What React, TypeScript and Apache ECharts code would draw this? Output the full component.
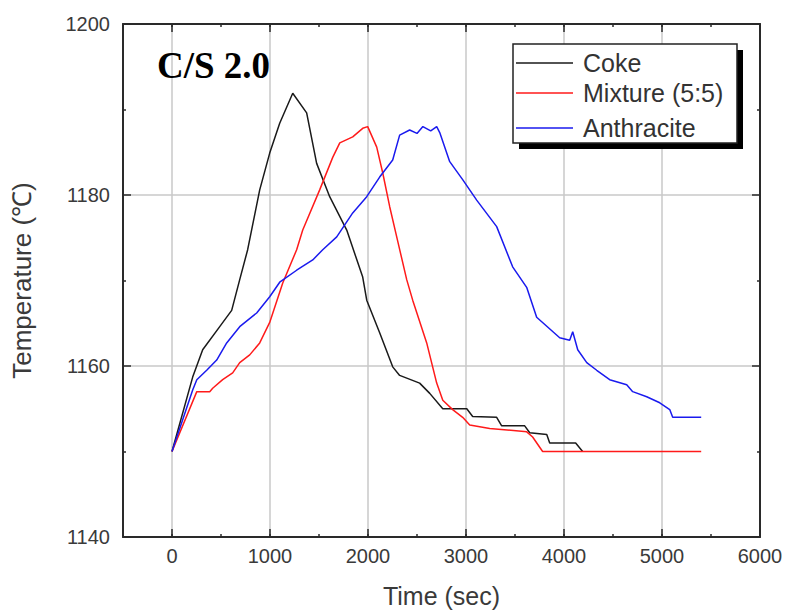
import React, { useEffect, useRef } from 'react';
import * as echarts from 'echarts';

// Time (sec) and temperature (°C)
const cokeTime = [0, 211, 313, 487, 609, 691, 772, 895, 997, 1099, 1232, 1374, 1476, 1609, 1783, 1946, 1987, 2119, 2252, 2323, 2527, 2630, 2763, 3008, 3068, 3313, 3364, 3599, 3650, 3824, 3854, 4119, 4190];
const cokeTemp = [1150, 1158.7, 1161.9, 1164.6, 1166.5, 1170.1, 1173.6, 1180.6, 1184.9, 1188.4, 1191.9, 1189.6, 1183.7, 1179.8, 1175.9, 1170.4, 1167.7, 1163.9, 1159.9, 1158.9, 1158.0, 1156.8, 1155.0, 1155.0, 1154.1, 1154.0, 1153.0, 1153.0, 1152.2, 1152.0, 1151.0, 1151.0, 1150];

const mixTime = [0, 253, 385, 415, 517, 619, 691, 793, 895, 997, 1130, 1272, 1334, 1507, 1640, 1712, 1844, 1946, 1997, 2089, 2150, 2222, 2293, 2395, 2456, 2599, 2701, 2763, 2864, 2966, 3038, 3242, 3620, 3680, 3782, 5400];
const mixTemp = [1150, 1157, 1157, 1157.4, 1158.4, 1159.2, 1160.4, 1161.3, 1162.7, 1165.1, 1169.7, 1173.6, 1175.9, 1180.6, 1184.4, 1186.1, 1186.8, 1187.8, 1188.0, 1185.6, 1182.6, 1178.6, 1175.1, 1170.1, 1167.7, 1162.7, 1158.0, 1156.0, 1154.9, 1154.0, 1153.1, 1152.7, 1152.3, 1151.7, 1150, 1150];

const anthTime = [0, 211, 253, 354, 456, 558, 691, 864, 997, 1099, 1272, 1436, 1538, 1681, 1844, 1987, 2119, 2252, 2323, 2425, 2500, 2560, 2640, 2701, 2732, 2834, 2966, 3109, 3313, 3476, 3619, 3721, 3956, 4058, 4089, 4140, 4232, 4334, 4466, 4640, 4701, 4844, 4977, 5079, 5109, 5400];
const anthTemp = [1150, 1157.2, 1158.4, 1159.5, 1160.7, 1162.7, 1164.6, 1166.2, 1168.1, 1169.8, 1171.2, 1172.4, 1173.6, 1175.1, 1177.9, 1179.8, 1182.1, 1184.1, 1187.0, 1187.6, 1187.2, 1188.0, 1187.5, 1188.0, 1187.3, 1183.9, 1181.8, 1179.4, 1176.3, 1171.6, 1169.2, 1165.7, 1163.3, 1163.0, 1164.0, 1161.9, 1160.4, 1159.5, 1158.4, 1157.8, 1157.0, 1156.4, 1155.7, 1154.9, 1154.0, 1154.0];

const seriesNames = ['Coke', 'Mixture (5:5)', 'Anthracite'];
const seriesColors = ['#1a1a1a', '#ff1a1a', '#1a1aee'];
const xMajorTicks = [0, 1000, 2000, 3000, 4000, 5000, 6000];
const titleText = 'C/S 2.0';
const xName = 'Time (sec)';
const yName = 'Temperature (\u2103)';

const pairs = (xs: number[], ys: number[]) => xs.map((x, i) => [x, ys[i]]);

export default function App() {
  const ref = useRef<HTMLDivElement>(null);
  useEffect(() => {
    const chart = echarts.init(ref.current!, undefined, { renderer: 'svg' });
    const font = 'Arial, "Liberation Sans", sans-serif';
    const frameColor = '#2a2a2a';
    const frame = { show: true, onZero: false, lineStyle: { color: frameColor, width: 2 } };
    const tickStyle = { color: frameColor, width: 1.5 };
    const gridStyle = { color: '#c8c8c8', width: 1.5 };
    const plain = (v: number) => String(v);
    const baseX: any = { type: 'value', min: -500, max: 6000, gridIndex: 0 };
    const baseY: any = { type: 'value', min: 1140, max: 1200, interval: 20, gridIndex: 0 };

    const datasets = [pairs(cokeTime, cokeTemp), pairs(mixTime, mixTemp), pairs(anthTime, anthTemp)];
    const legendY = [63, 93, 128];

    const graphic: any[] = [
      { type: 'text', x: 157, y: 65, z: 10, style: { text: titleText, fontSize: 37, fontWeight: 'bold', fontFamily: '"Times New Roman", "Liberation Serif", serif', fill: '#000', align: 'left', verticalAlign: 'middle' } },
      { type: 'rect', z: 10, shape: { x: 519, y: 50, width: 224, height: 99 }, style: { fill: '#000' } },
      { type: 'rect', z: 11, shape: { x: 513, y: 44, width: 224, height: 99 }, style: { fill: '#fff', stroke: '#222', lineWidth: 1.5 } },
    ];
    seriesNames.forEach((n, i) => {
      graphic.push({ type: 'line', z: 12, shape: { x1: 516, y1: legendY[i], x2: 573, y2: legendY[i] }, style: { stroke: seriesColors[i], lineWidth: 1.5 } });
      graphic.push({ type: 'text', z: 12, x: 583, y: legendY[i], style: { text: n, fontSize: 25, fontFamily: font, fill: '#333', align: 'left', verticalAlign: 'middle' } });
    });

    chart.setOption({
      animation: false,
      backgroundColor: '#fff',
      grid: { left: 123, right: 28, top: 24, bottom: 77, containLabel: false, outerBoundsMode: 'none' },
      xAxis: [
        {
          ...baseX, position: 'bottom', name: xName, nameLocation: 'middle', nameGap: 46,
          nameTextStyle: { fontSize: 25, color: '#3a3a3a', fontFamily: font },
          axisLine: frame,
          axisTick: { inside: true, length: 8, customValues: xMajorTicks, lineStyle: tickStyle },
          axisLabel: { customValues: xMajorTicks, formatter: plain, margin: 9, fontSize: 20, color: '#3a3a3a', fontFamily: font },
          splitLine: { show: true, lineStyle: gridStyle },
        },
        {
          ...baseX, position: 'bottom', interval: 500,
          axisLine: { show: false, onZero: false },
          axisTick: { inside: true, length: 3, lineStyle: tickStyle },
          axisLabel: { show: false }, splitLine: { show: false },
        },
        {
          ...baseX, position: 'top',
          axisLine: frame,
          axisTick: { inside: true, length: 8, customValues: xMajorTicks, lineStyle: tickStyle },
          axisLabel: { show: false }, splitLine: { show: false },
        },
        {
          ...baseX, position: 'top', interval: 500,
          axisLine: { show: false, onZero: false },
          axisTick: { inside: true, length: 3, lineStyle: tickStyle },
          axisLabel: { show: false }, splitLine: { show: false },
        },
      ],
      yAxis: [
        {
          ...baseY, position: 'left', name: yName, nameLocation: 'middle', nameGap: 88, nameRotate: 90,
          nameTextStyle: { fontSize: 26, color: '#3a3a3a', fontFamily: font },
          axisLine: frame,
          axisTick: { inside: true, length: 8, lineStyle: tickStyle },
          minorTick: { show: true, splitNumber: 2, length: 3, lineStyle: tickStyle },
          axisLabel: { formatter: plain, margin: 13, fontSize: 20, color: '#3a3a3a', fontFamily: font },
          splitLine: { show: true, lineStyle: gridStyle },
        },
        {
          ...baseY, position: 'right',
          axisLine: frame,
          axisTick: { inside: true, length: 8, lineStyle: tickStyle },
          minorTick: { show: true, splitNumber: 2, length: 3, lineStyle: tickStyle },
          axisLabel: { show: false }, splitLine: { show: false },
        },
      ],
      graphic,
      series: seriesNames.map((n, i) => ({
        name: n,
        type: 'line',
        xAxisIndex: 0,
        yAxisIndex: 0,
        data: datasets[i],
        showSymbol: false,
        symbol: 'none',
        lineStyle: { color: seriesColors[i], width: 1.5 },
        itemStyle: { color: seriesColors[i] },
        z: 3 + i,
      })),
    });
    return () => chart.dispose();
  }, []);
  return <div ref={ref} style={{ position: 'fixed', left: 0, top: 0, width: 788, height: 614 }} />;
}
